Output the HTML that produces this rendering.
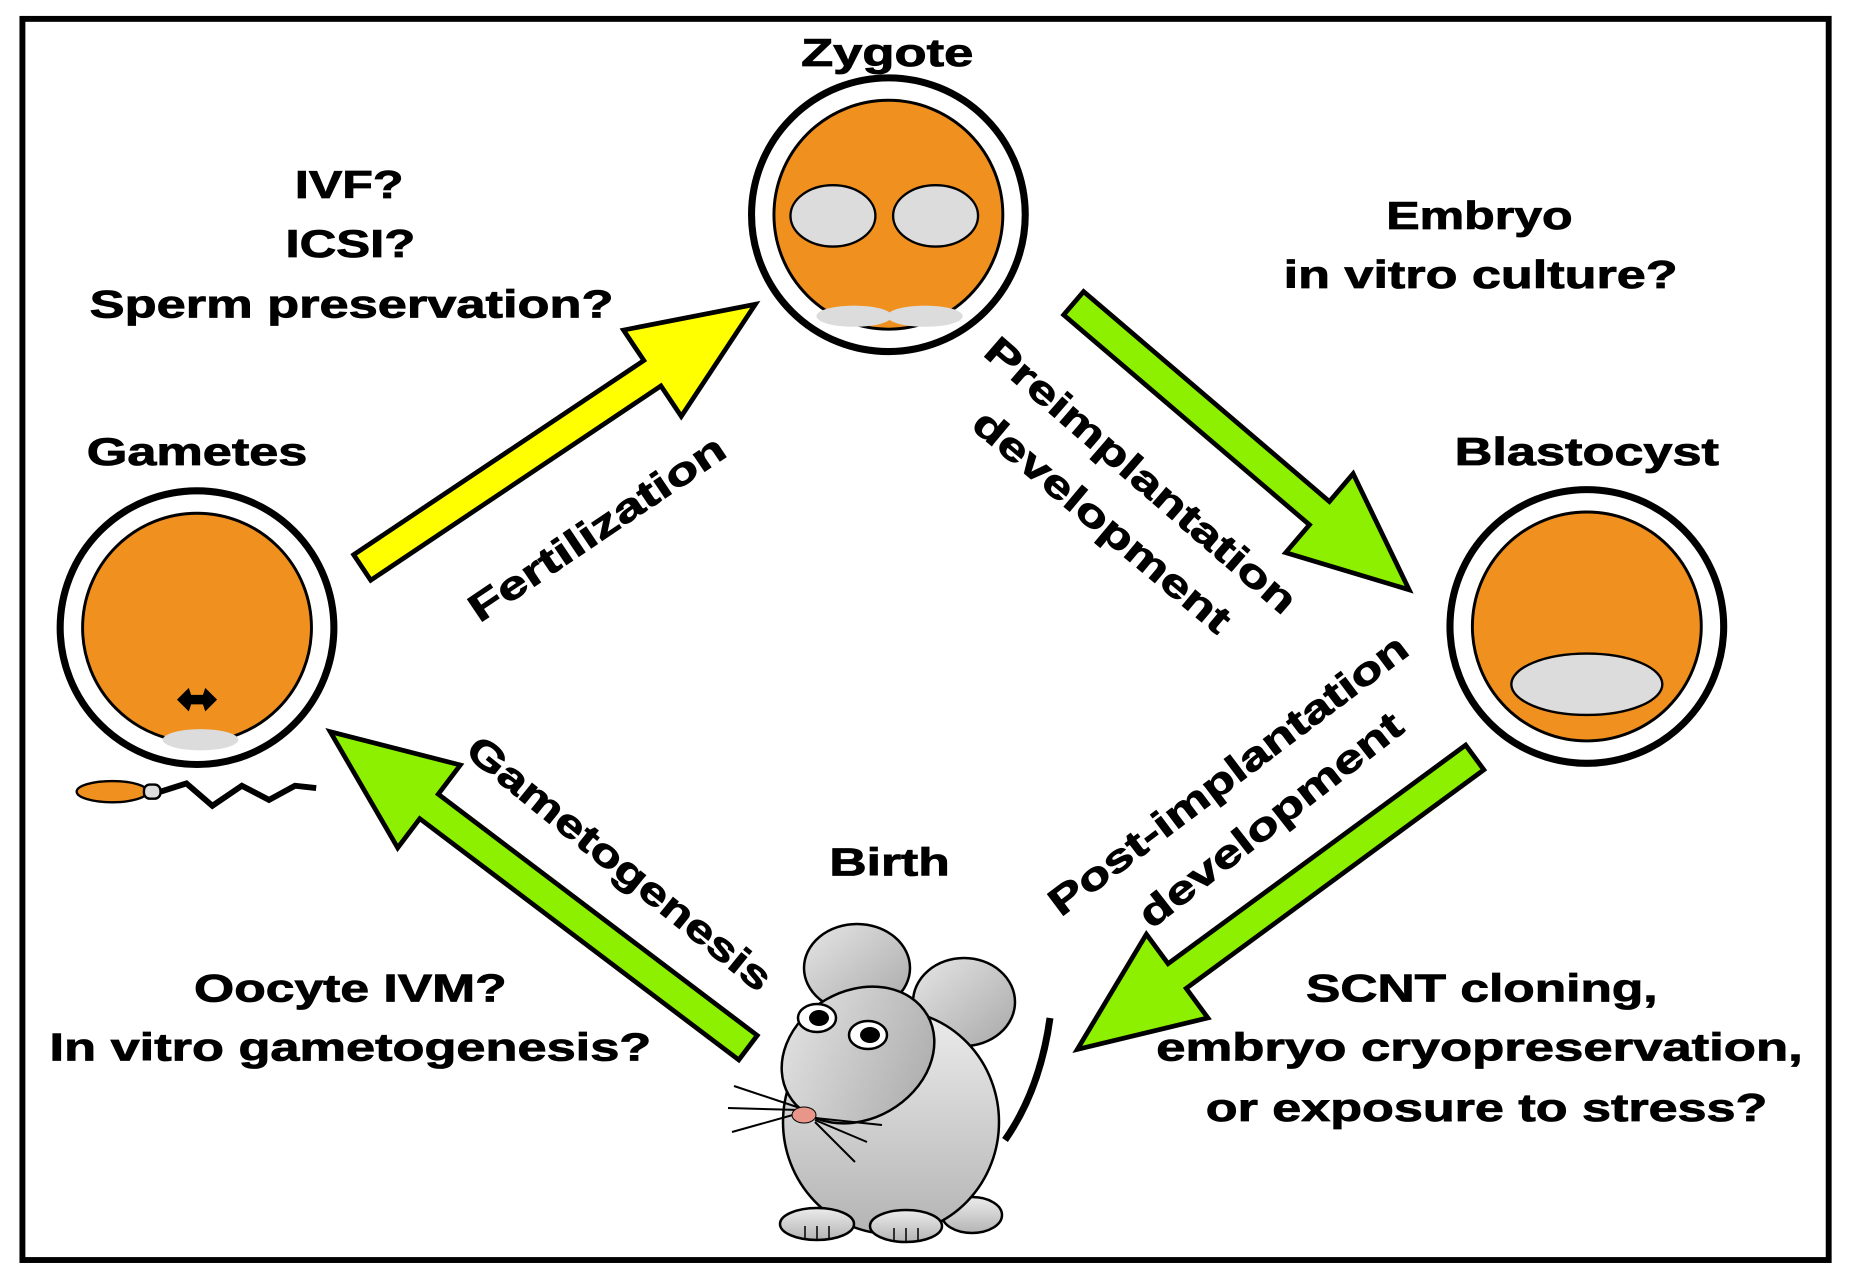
<!DOCTYPE html>
<html><head><meta charset="utf-8"><style>
html,body{margin:0;padding:0;background:#fff;}
svg{display:block;}
text{font-family:"Liberation Sans",Arial,sans-serif;font-weight:bold;font-size:33px;fill:#000;stroke:#000;stroke-width:0.7px;}
</style></head><body>
<svg width="1850" height="1286" viewBox="0 0 1850 1286" xmlns="http://www.w3.org/2000/svg">
<defs>
<linearGradient id="gr" x1="0" y1="0" x2="1" y2="1">
<stop offset="0" stop-color="#e6e6e6"/><stop offset="1" stop-color="#a8a8a8"/>
</linearGradient>
<linearGradient id="gr2" x1="0" y1="0" x2="0" y2="1">
<stop offset="0" stop-color="#ececec"/><stop offset="1" stop-color="#b4b4b4"/>
</linearGradient>
</defs>
<rect width="1850" height="1286" fill="#fff"/>
<g transform="scale(1.1798)">
<rect x="19" y="16" width="1531" height="1052" fill="none" stroke="#000" stroke-width="5"/>

<!-- Zygote -->
<circle cx="753" cy="182" r="116" fill="#fff" stroke="#000" stroke-width="6"/>
<circle cx="753" cy="182" r="97" fill="#f0901e" stroke="#000" stroke-width="2.5"/>
<ellipse cx="706" cy="183" rx="36" ry="26" fill="#dcdcdc" stroke="#000" stroke-width="2"/>
<ellipse cx="793" cy="183" rx="36" ry="26" fill="#dcdcdc" stroke="#000" stroke-width="2"/>
<ellipse cx="724" cy="268" rx="32" ry="9" fill="#dcdcdc"/>
<ellipse cx="784" cy="268" rx="32" ry="9" fill="#dcdcdc"/>

<!-- Gametes -->
<circle cx="167" cy="532" r="116" fill="#fff" stroke="#000" stroke-width="6"/>
<circle cx="167" cy="532" r="97" fill="#f0901e" stroke="#000" stroke-width="2.5"/>
<ellipse cx="170" cy="627" rx="32" ry="9" fill="#dcdcdc"/>
<path d="M150,593 L160,583 L162,589 L172,589 L174,583 L184,593 L174,603 L172,597 L162,597 L160,603 Z" fill="#000"/>
<ellipse cx="95" cy="671" rx="30" ry="9" fill="#f0901e" stroke="#000" stroke-width="2"/>
<rect x="122" y="665" width="14" height="12" rx="5" fill="#ddd" stroke="#000" stroke-width="2"/>
<polyline points="136,671 158,664 180,683 205,666 228,678 250,666 268,668" fill="none" stroke="#000" stroke-width="5"/>

<!-- Blastocyst -->
<circle cx="1345" cy="531" r="116" fill="#fff" stroke="#000" stroke-width="6"/>
<circle cx="1345" cy="531" r="97" fill="#f0901e" stroke="#000" stroke-width="2.5"/>
<ellipse cx="1345" cy="580" rx="64" ry="26" fill="#dcdcdc" stroke="#000" stroke-width="2"/>

<!-- Arrows -->
<g transform="translate(307,481) rotate(-33.8)">
<polygon points="0,-13 296,-13 296,-44 401,0 296,44 296,13 0,13" fill="#ffff00" stroke="#000" stroke-width="4"/>
</g>
<g transform="translate(910,257) rotate(40.5)">
<polygon points="0,-13 274,-13 274,-44 374,0 274,44 274,13 0,13" fill="#8cf000" stroke="#000" stroke-width="4"/>
</g>
<g transform="translate(1250,642) rotate(143.7)">
<polygon points="0,-13 313,-13 313,-44 418,0 313,44 313,13 0,13" fill="#8cf000" stroke="#000" stroke-width="4"/>
</g>
<g transform="translate(634,888) rotate(217.1)">
<polygon points="0,-13 339,-13 339,-44 444,0 339,44 339,13 0,13" fill="#8cf000" stroke="#000" stroke-width="4"/>
</g>

<!-- Labels -->
<text x="752" y="56" text-anchor="middle" textLength="146" lengthAdjust="spacingAndGlyphs">Zygote</text>
<text x="167" y="394" text-anchor="middle" textLength="187" lengthAdjust="spacingAndGlyphs">Gametes</text>
<text x="1345" y="394" text-anchor="middle" textLength="224" lengthAdjust="spacingAndGlyphs">Blastocyst</text>
<text x="754" y="742" text-anchor="middle" textLength="102" lengthAdjust="spacingAndGlyphs">Birth</text>

<text x="296" y="168" text-anchor="middle" textLength="92" lengthAdjust="spacingAndGlyphs">IVF?</text>
<text x="297" y="218" text-anchor="middle" textLength="110" lengthAdjust="spacingAndGlyphs">ICSI?</text>
<text x="298" y="269" text-anchor="middle" textLength="444" lengthAdjust="spacingAndGlyphs">Sperm preservation?</text>

<text x="1254" y="194" text-anchor="middle" textLength="158" lengthAdjust="spacingAndGlyphs">Embryo</text>
<text x="1255" y="244" text-anchor="middle" textLength="334" lengthAdjust="spacingAndGlyphs">in vitro culture?</text>

<text x="297" y="849" text-anchor="middle" textLength="265" lengthAdjust="spacingAndGlyphs">Oocyte IVM?</text>
<text x="297" y="899" text-anchor="middle" textLength="510" lengthAdjust="spacingAndGlyphs">In vitro gametogenesis?</text>

<text x="1256" y="849" text-anchor="middle" textLength="298" lengthAdjust="spacingAndGlyphs">SCNT cloning,</text>
<text x="1254" y="899" text-anchor="middle" textLength="548" lengthAdjust="spacingAndGlyphs">embryo cryopreservation,</text>
<text x="1260" y="950" text-anchor="middle" textLength="476" lengthAdjust="spacingAndGlyphs">or exposure to stress?</text>

<text transform="translate(506,448) rotate(-34)" y="11" text-anchor="middle" textLength="255" lengthAdjust="spacingAndGlyphs">Fertilization</text>
<text transform="translate(967,403) rotate(41)" y="11" text-anchor="middle" textLength="338" lengthAdjust="spacingAndGlyphs">Preimplantation</text>
<text transform="translate(934,442) rotate(40)" y="11" text-anchor="middle" textLength="274" lengthAdjust="spacingAndGlyphs">development</text>
<text transform="translate(1041,657) rotate(-37)" y="11" text-anchor="middle" textLength="372" lengthAdjust="spacingAndGlyphs">Post-implantation</text>
<text transform="translate(1077,695) rotate(-38)" y="11" text-anchor="middle" textLength="274" lengthAdjust="spacingAndGlyphs">development</text>
<text transform="translate(525,732) rotate(39)" y="11" text-anchor="middle" textLength="322" lengthAdjust="spacingAndGlyphs">Gametogenesis</text>
</g>

<!-- Mouse (original pixel coords) -->
<g stroke="#000" stroke-width="2.5">
<path d="M1050,1018 Q1040,1090 1005,1140" fill="none" stroke-width="7"/>
<ellipse cx="857" cy="968" rx="53" ry="44" fill="url(#gr)"/>
<ellipse cx="964" cy="1002" rx="51" ry="44" fill="url(#gr)"/>
<ellipse cx="972" cy="1215" rx="30" ry="18" fill="url(#gr2)"/>
<ellipse cx="891" cy="1122" rx="108" ry="112" fill="url(#gr2)"/>
<ellipse cx="858" cy="1055" rx="80" ry="64" transform="rotate(-30 858 1055)" fill="url(#gr)"/>
<ellipse cx="817" cy="1018" rx="19" ry="14" fill="#fff"/>
<ellipse cx="868" cy="1035" rx="19" ry="14" fill="#fff"/>
<ellipse cx="819" cy="1018" rx="10" ry="8" fill="#000" stroke="none"/>
<ellipse cx="870" cy="1035" rx="10" ry="8" fill="#000" stroke="none"/>
<g stroke-width="2" fill="none">
<line x1="800" y1="1108" x2="734" y2="1086"/>
<line x1="800" y1="1110" x2="728" y2="1108"/>
<line x1="800" y1="1113" x2="732" y2="1132"/>
<line x1="815" y1="1118" x2="882" y2="1125"/>
<line x1="815" y1="1120" x2="867" y2="1142"/>
<line x1="815" y1="1122" x2="855" y2="1162"/>
</g>
<ellipse cx="804" cy="1115" rx="12" ry="8" fill="#e8968a" stroke-width="1"/>
<ellipse cx="817" cy="1224" rx="37" ry="16" fill="url(#gr2)"/>
<ellipse cx="906" cy="1226" rx="36" ry="16" fill="url(#gr2)"/>
<g stroke-width="1.5">
<line x1="805" y1="1226" x2="805" y2="1238"/><line x1="817" y1="1226" x2="817" y2="1239"/><line x1="829" y1="1226" x2="829" y2="1238"/>
<line x1="894" y1="1228" x2="894" y2="1240"/><line x1="906" y1="1228" x2="906" y2="1241"/><line x1="918" y1="1228" x2="918" y2="1240"/>
</g>
</g>
</svg>
</body></html>
